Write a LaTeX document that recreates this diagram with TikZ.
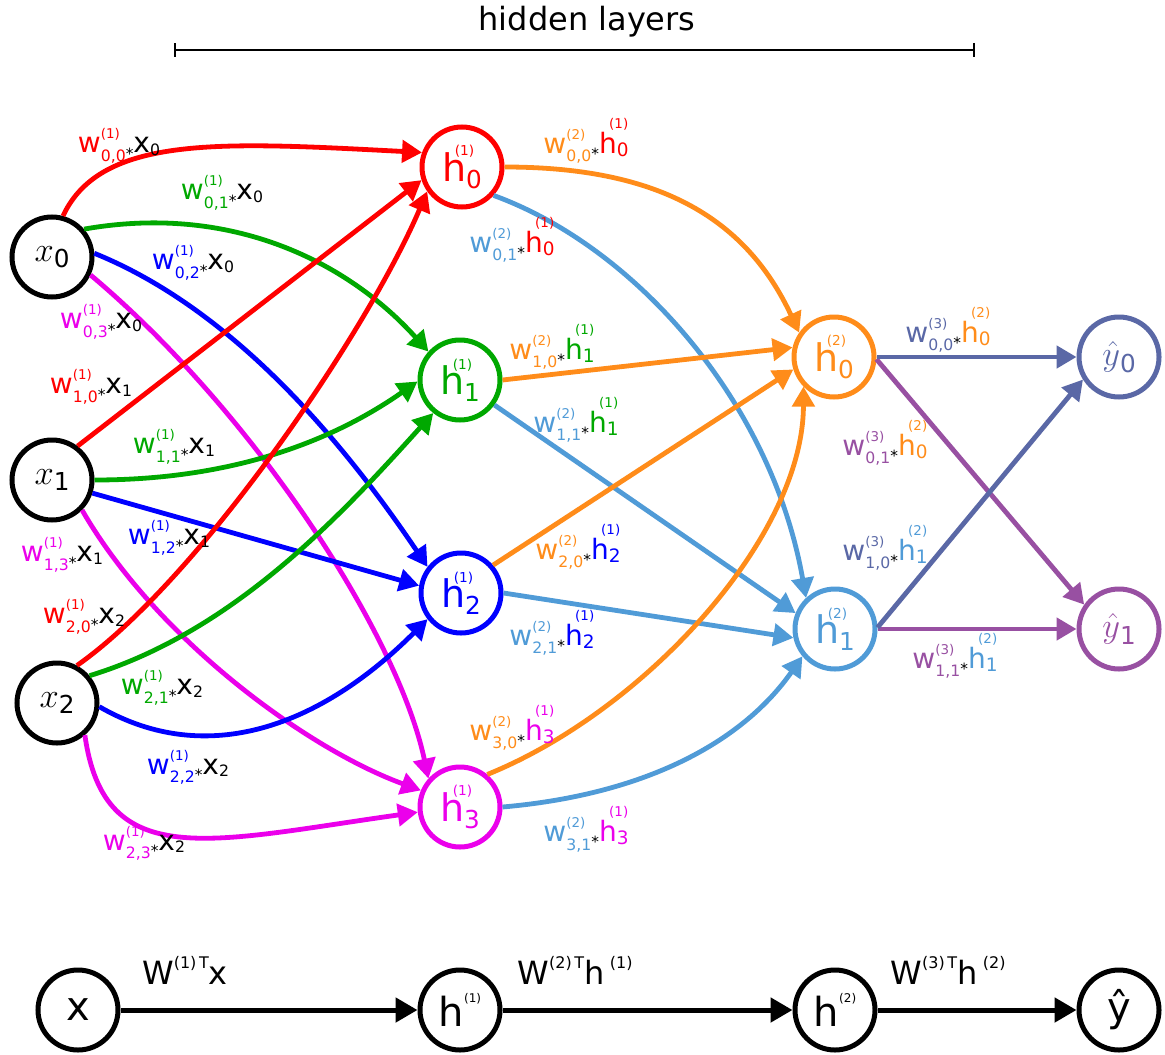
\documentclass[tikz,border=0pt]{standalone}
\usepackage{fontspec}
\setmainfont{DejaVu Sans}
\usepackage{graphicx}
\usetikzlibrary{arrows.meta}

\definecolor{cred}{RGB}{255,0,0}
\definecolor{cgrn}{RGB}{0,168,0}
\definecolor{cblu}{RGB}{0,0,255}
\definecolor{cmag}{RGB}{235,0,235}
\definecolor{corg}{RGB}{255,140,26}
\definecolor{clbl}{RGB}{80,155,215}
\definecolor{cslt}{RGB}{90,104,166}
\definecolor{cpur}{RGB}{152,80,162}

% hand-set indices
\newcommand{\wv}[3]{\textcolor{#1}{w\rlap{\raisebox{0.5em}{\scalebox{0.48}{(#2)}}}\raisebox{-0.3em}{\scalebox{0.56}{#3}}}}
\newcommand{\tms}{\raisebox{-0.22em}{\scalebox{0.55}{*}}}
\newcommand{\xv}[1]{x\raisebox{-0.08em}{\scalebox{0.56}{#1}}}
\newcommand{\hv}[3]{\textcolor{#1}{h\rlap{\kern-0.27em\raisebox{0.9em}{\scalebox{0.48}{(#2)}}}\raisebox{-0.12em}{\scalebox{0.66}{#3}}}}
\newcommand{\nsub}[1]{\raisebox{-0.17em}{\scalebox{0.65}{#1}}}
\newcommand{\hn}[2]{h\rlap{\kern-0.3em\raisebox{0.68em}{\scalebox{0.36}{(#1)}}}\nsub{#2}}

\begin{document}
\begin{tikzpicture}[x=0.5pt, y=0.5pt,
    neuron/.style={circle, draw, line width=2.5pt, minimum size=40pt, inner sep=0pt,
      font=\fontsize{19}{21}\selectfont},
    link/.style={line width=2.4pt, -{Triangle[length=10pt,width=11pt]}},
    flow/.style={line width=2.5pt, -{Triangle[length=11pt,width=12pt]}},
    wlab/.style={inner sep=0pt, font=\fontsize{14}{16}\selectfont},
    vlab/.style={inner sep=0pt, font=\fontsize{16}{18}\selectfont}]

  \useasboundingbox (0,0) rectangle (1165,-1054);

  % hidden layers bracket
  \coordinate (hl) at (174,-50);
  \coordinate (hr) at (975,-50);
  \draw[line width=0.8pt, {Bar[width=7pt]}-{Bar[width=7pt]}] (hl) -- (hr);
  \node[vlab] (hid) at (587,-22) {hidden layers};

  % input layer
  \node[neuron] (x0) at (52,-257) {$x$\nsub{0}};
  \node[neuron] (x1) at (52,-480) {$x$\nsub{1}};
  \node[neuron] (x2) at (57,-703) {$x$\nsub{2}};

  % first hidden layer
  \node[neuron, cred] (h10) at (462,-167) {\hn{1}{0}};
  \node[neuron, cgrn] (h11) at (460,-380) {\hn{1}{1}};
  \node[neuron, cblu] (h12) at (461,-593) {\hn{1}{2}};
  \node[neuron, cmag] (h13) at (460,-807) {\hn{1}{3}};

  % second hidden layer
  \node[neuron, corg] (h20) at (834,-357) {\hn{2}{0}};
  \node[neuron, clbl] (h21) at (835,-629) {\hn{2}{1}};

  % output layer
  \node[neuron, cslt] (y0) at (1119,-357) {$\hat{y}$\nsub{0}};
  \node[neuron, cpur] (y1) at (1119,-629) {$\hat{y}$\nsub{1}};

  % input -> first hidden layer
  \draw[link, cred] (x0.75) .. controls +(65:90) and +(177:200) .. (h10.160);
  \draw[link, cgrn] (x0.41) .. controls +(10:150) and +(132:120) .. (h11.138);
  \draw[link, cblu] (x0.5) .. controls +(-22:150) and +(124:150) .. (h12.142);
  \draw[link, cmag] (x0.-25) .. controls +(-40:210) and +(102:150) .. (h13.138);
  \draw[link, cred] (x1.53) -- (h10.198);
  \draw[link, cgrn] (x1.0) .. controls +(0:120) and +(215:120) .. (h11.182);
  \draw[link, cblu] (x1.-18) -- (h12.170);
  \draw[link, cmag] (x1.-45) .. controls +(-60:150) and +(160:120) .. (h13.157);
  \draw[link, cred] (x2.62) .. controls +(35:150) and +(247:150) .. (h10.215);
  \draw[link, cgrn] (x2.40) .. controls +(17:150) and +(228:140) .. (h11.231);
  \draw[link, cblu] (x2.-5) .. controls +(-30:125) and +(225:150) .. (h12.218);
  \draw[link, cmag] (x2.-49) .. controls +(-82:140) and +(188:210) .. (h13.187);

  % first -> second hidden layer
  \draw[link, corg] (h10.0) .. controls +(0:150) and +(115:130) .. (h20.145);
  \draw[link, clbl] (h10.-42) .. controls +(-20:150) and +(100:200) .. (h21.133);
  \draw[link, corg] (h11.0) -- (h20.167);
  \draw[link, clbl] (h11.-36) -- (h21.158);
  \draw[link, corg] (h12.41) -- (h20.197);
  \draw[link, clbl] (h12.0) -- (h21.192);
  \draw[link, corg] (h13.50) .. controls +(22:170) and +(-90:150) .. (h20.224);
  \draw[link, clbl] (h13.0) .. controls +(5:150) and +(235:100) .. (h21.220);

  % second hidden layer -> output
  \draw[link, cpur] (h20.-3) -- (y1.145);
  \draw[link, cpur] (h21) -- (y1);
  \draw[link, cslt] (h20) -- (y0);
  \draw[link, cslt] (h21.2) -- (y0.212);

  % weights, layer 1
  \node[wlab] (l00) at (119,-146) {\wv{cred}{1}{0,0}\tms\xv{0}};
  \node[wlab] (l01) at (222,-193) {\wv{cgrn}{1}{0,1}\tms\xv{0}};
  \node[wlab] (l02) at (193,-263) {\wv{cblu}{1}{0,2}\tms\xv{0}};
  \node[wlab] (l03) at (101,-322) {\wv{cmag}{1}{0,3}\tms\xv{0}};
  \node[wlab] (l10) at (91,-387) {\wv{cred}{1}{1,0}\tms\xv{1}};
  \node[wlab] (l11) at (174,-447) {\wv{cgrn}{1}{1,1}\tms\xv{1}};
  \node[wlab] (l12) at (169,-538) {\wv{cblu}{1}{1,2}\tms\xv{1}};
  \node[wlab] (l13) at (62,-555) {\wv{cmag}{1}{1,3}\tms\xv{1}};
  \node[wlab] (l20) at (84,-617) {\wv{cred}{1}{2,0}\tms\xv{2}};
  \node[wlab] (l21) at (162,-688) {\wv{cgrn}{1}{2,1}\tms\xv{2}};
  \node[wlab] (l22) at (188,-767) {\wv{cblu}{1}{2,2}\tms\xv{2}};
  \node[wlab] (l23) at (144,-843) {\wv{cmag}{1}{2,3}\tms\xv{2}};

  % weights, layer 2
  \node[wlab] (m00) at (586,-141) {\wv{corg}{2}{0,0}\tms\hv{cred}{1}{0}};
  \node[wlab] (m01) at (512,-240) {\wv{clbl}{2}{0,1}\tms\hv{cred}{1}{0}};
  \node[wlab] (m10) at (552,-347) {\wv{corg}{2}{1,0}\tms\hv{cgrn}{1}{1}};
  \node[wlab] (m11) at (576,-420) {\wv{clbl}{2}{1,1}\tms\hv{cgrn}{1}{1}};
  \node[wlab] (m20) at (578,-547) {\wv{corg}{2}{2,0}\tms\hv{cblu}{1}{2}};
  \node[wlab] (m21) at (552,-633) {\wv{clbl}{2}{2,1}\tms\hv{cblu}{1}{2}};
  \node[wlab] (m30) at (512,-728) {\wv{corg}{2}{3,0}\tms\hv{cmag}{1}{3}};
  \node[wlab] (m31) at (586,-829) {\wv{clbl}{2}{3,1}\tms\hv{cmag}{1}{3}};

  % weights, layer 3
  \node[wlab] (n00) at (948,-330) {\wv{cslt}{3}{0,0}\tms\hv{corg}{2}{0}};
  \node[wlab] (n01) at (885,-443) {\wv{cpur}{3}{0,1}\tms\hv{corg}{2}{0}};
  \node[wlab] (n10) at (885,-548) {\wv{cslt}{3}{1,0}\tms\hv{clbl}{2}{1}};
  \node[wlab] (n11) at (955,-656) {\wv{cpur}{3}{1,1}\tms\hv{clbl}{2}{1}};

  % vector form
  \node[neuron, font=\fontsize{20}{22}\selectfont] (vx) at (78,-1010) {x};
  \node[neuron, font=\fontsize{20}{22}\selectfont] (vh1) at (460,-1010) {h\raisebox{0.6em}{\scalebox{0.3}{(1)}}};
  \node[neuron, font=\fontsize{20}{22}\selectfont] (vh2) at (835,-1010) {h\raisebox{0.6em}{\scalebox{0.3}{(2)}}};
  \node[neuron, font=\fontsize{20}{22}\selectfont] (vy) at (1119,-1010) {ŷ};
  \foreach \a/\b in {vx/vh1, vh1/vh2, vh2/vy}
    \draw[flow] (\a) -- (\b);

  \node[vlab] (t1) at (185,-970) {W\raisebox{0.5em}{\scalebox{0.5}{(1)\,T}}x};
  \node[vlab] (t2) at (575,-970) {W\raisebox{0.5em}{\scalebox{0.5}{(2)\,T}}h\,\raisebox{0.5em}{\scalebox{0.5}{(1)}}};
  \node[vlab] (t3) at (948,-970) {W\raisebox{0.5em}{\scalebox{0.5}{(3)\,T}}h\,\raisebox{0.5em}{\scalebox{0.5}{(2)}}};

\end{tikzpicture}
\end{document}
